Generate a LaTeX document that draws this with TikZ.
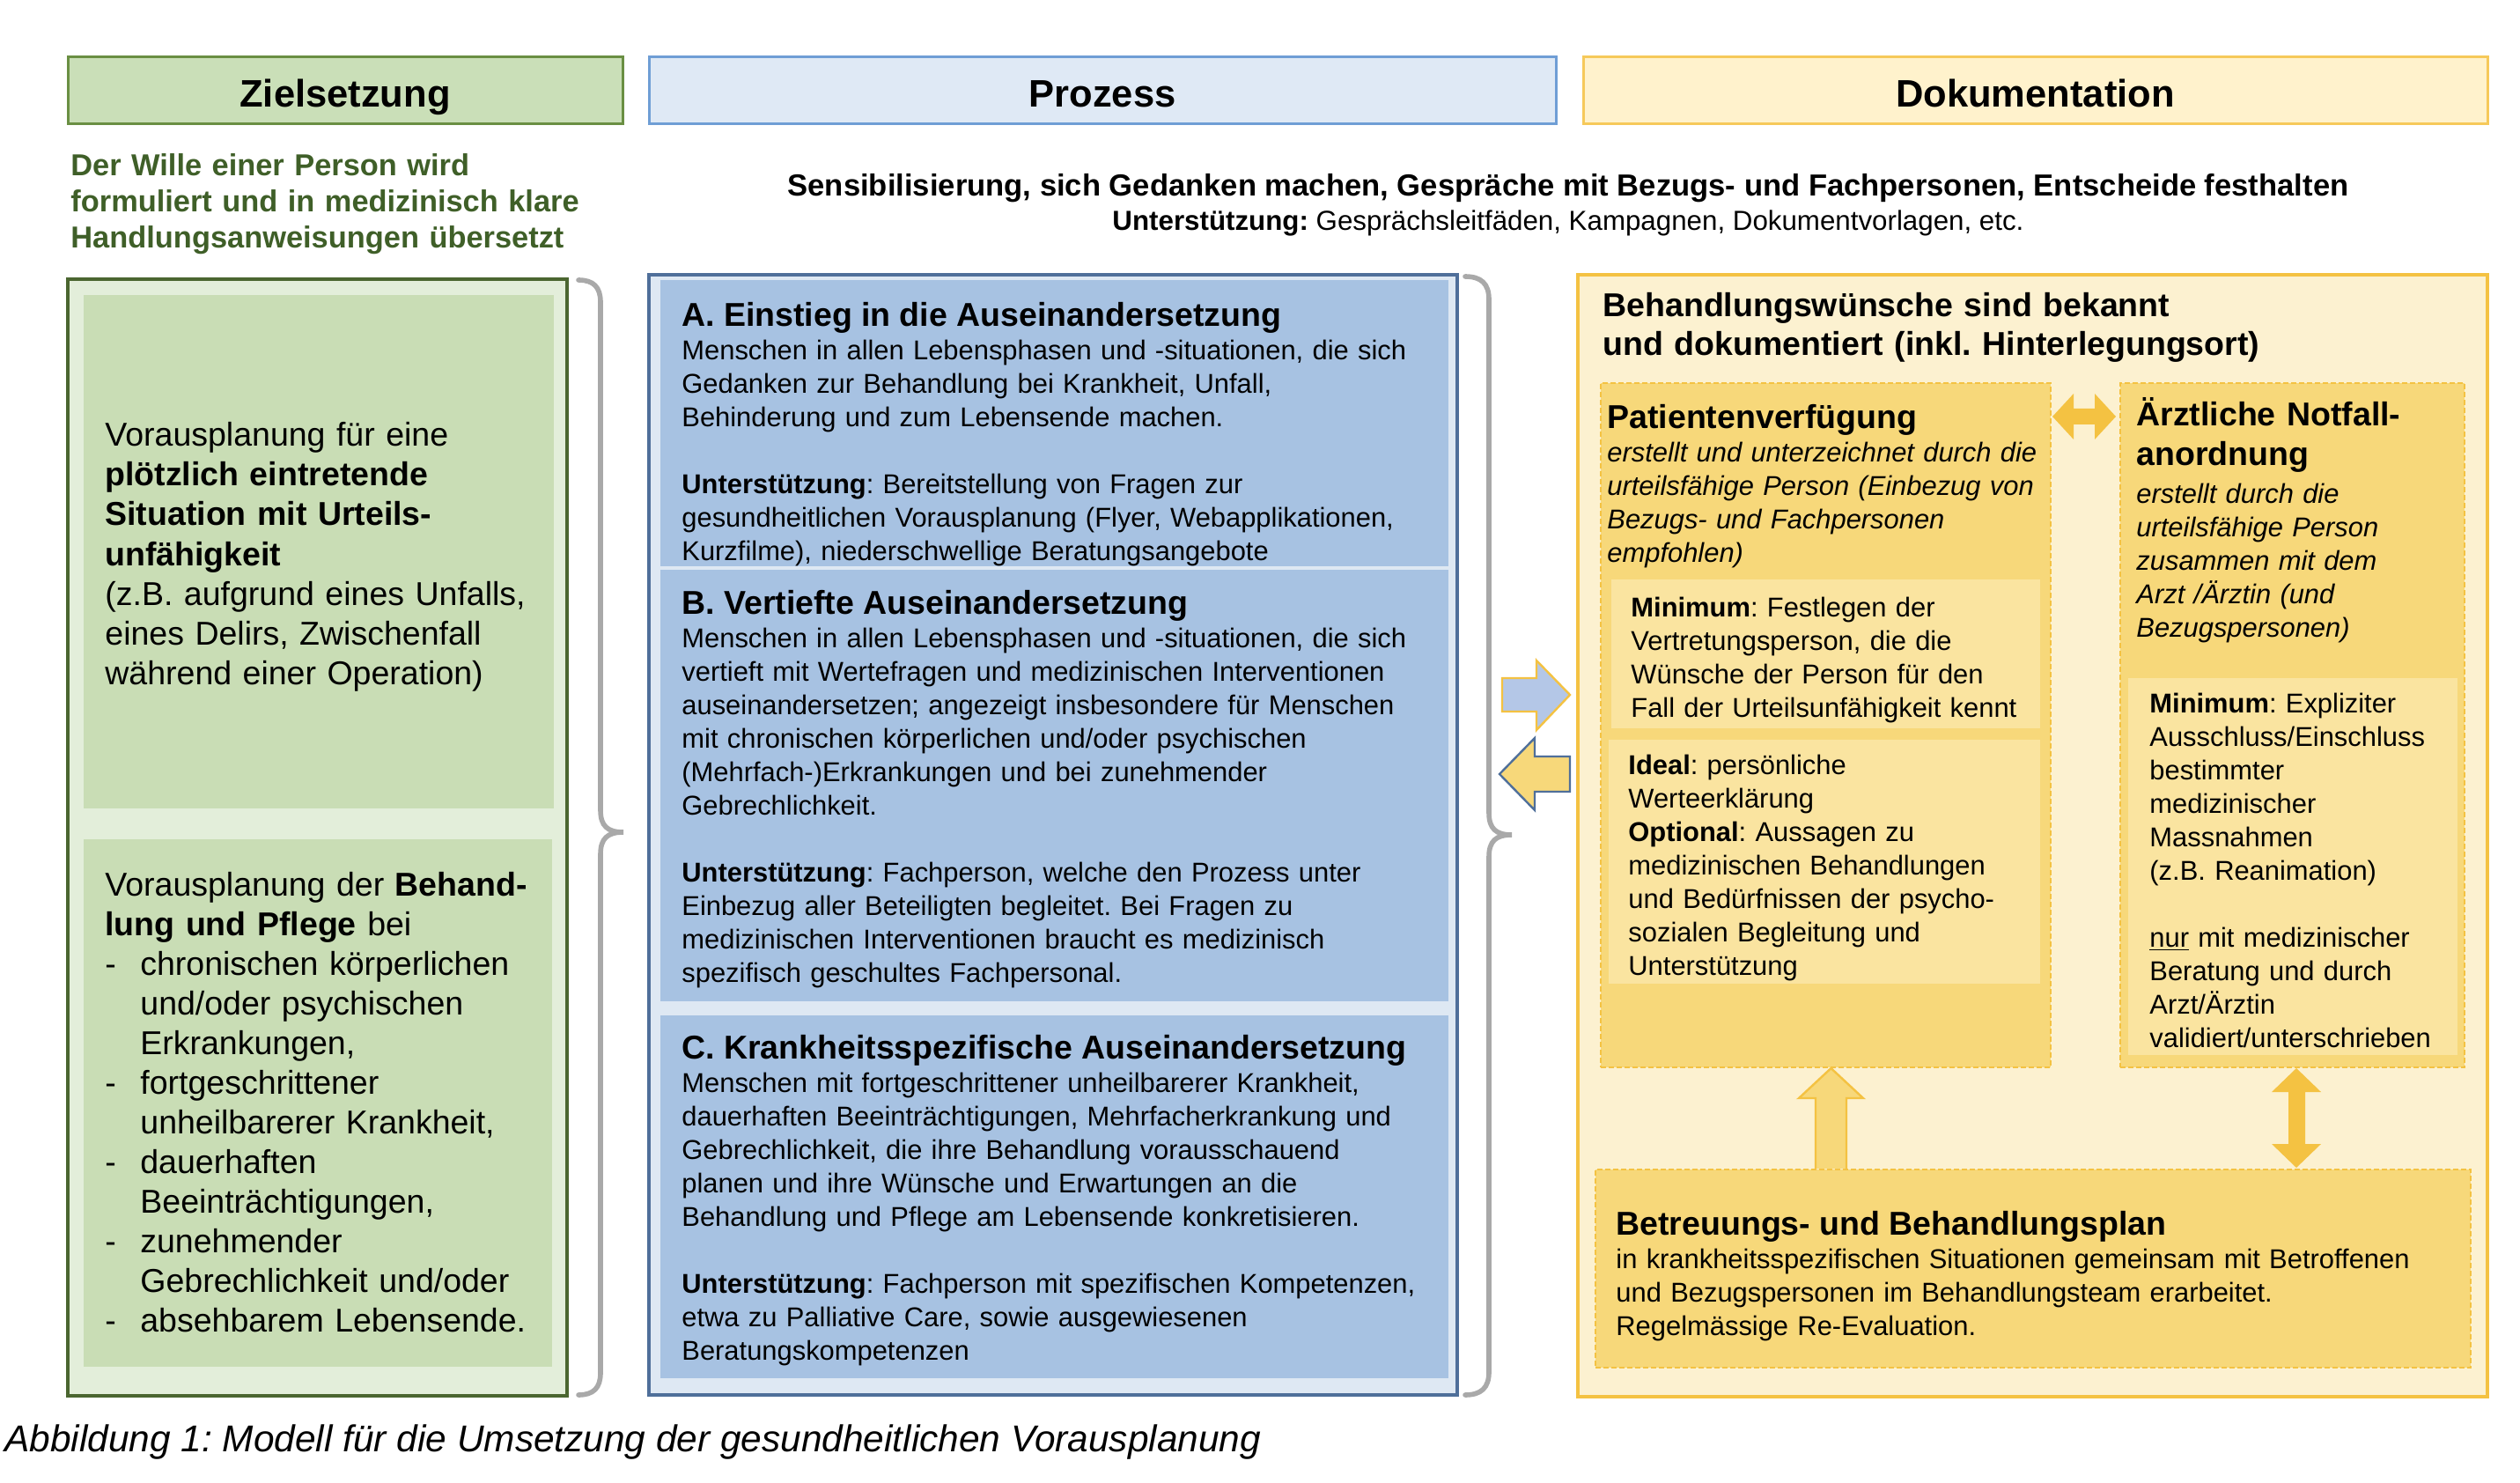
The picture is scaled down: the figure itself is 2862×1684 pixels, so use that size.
\documentclass[tikz,border=0pt]{standalone}
\usepackage{fontspec}
\setmainfont{Liberation Sans}
\usetikzlibrary{fit}
\frenchspacing
\definecolor{gHeadF}{HTML}{CADFB8}
\definecolor{gHeadD}{HTML}{6A8F43}
\definecolor{gOutF}{HTML}{E3EEDA}
\definecolor{gOutD}{HTML}{4B6630}
\definecolor{gIn}{HTML}{C9DDB5}
\definecolor{gTxt}{HTML}{3F5F28}
\definecolor{bHeadF}{HTML}{DFE9F5}
\definecolor{bHeadD}{HTML}{6F9ED5}
\definecolor{bOutF}{HTML}{DEE8F3}
\definecolor{bOutD}{HTML}{4F6F9A}
\definecolor{bIn}{HTML}{A7C2E2}
\definecolor{yHeadF}{HTML}{FFF2CC}
\definecolor{yHeadD}{HTML}{F6C95A}
\definecolor{yOutF}{HTML}{FCF1D0}
\definecolor{yD}{HTML}{F4C242}
\definecolor{yMid}{HTML}{F7D87A}
\definecolor{yLight}{HTML}{FAE4A0}
\definecolor{arrBlue}{HTML}{B4C7E7}
\definecolor{braceG}{HTML}{A9A9A9}
\newcommand\FBody{\fontsize{15.45pt}{19pt}\selectfont\frenchspacing}
\newcommand\FTitle{\fontsize{18.75pt}{22pt}\selectfont\bfseries}
\newcommand\FHead{\fontsize{21.75pt}{26pt}\selectfont\bfseries}
\newcommand\FLeft{\fontsize{18.75pt}{22.5pt}\selectfont\frenchspacing}
\newcommand\FSub{\fontsize{17.2pt}{20.5pt}\selectfont\bfseries}
\newcommand\FCap{\fontsize{21.2pt}{24pt}\selectfont\itshape\frenchspacing}
\newcommand\Bul{\makebox[20pt][l]{-}}
\newcommand\Ind{\hspace*{20pt}}
\begin{document}
\begin{tikzpicture}[x=0.5pt,y=-0.5pt,
  rbox/.style={inner sep=0pt, outer sep=0pt},
  headG/.style={rbox, fill=gHeadF, draw=gHeadD, line width=1.5pt},
  headB/.style={rbox, fill=bHeadF, draw=bHeadD, line width=1.5pt},
  headY/.style={rbox, fill=yHeadF, draw=yHeadD, line width=1.5pt},
  outG/.style={rbox, fill=gOutF, draw=gOutD, line width=1.8pt},
  inG/.style={rbox, fill=gIn},
  outB/.style={rbox, fill=bOutF, draw=bOutD, line width=1.8pt},
  inB/.style={rbox, fill=bIn},
  outY/.style={rbox, fill=yOutF, draw=yD, line width=2.2pt},
  dashY/.style={rbox, fill=yMid, draw=yD, line width=1.3pt, dash pattern=on 3pt off 1.5pt},
  inY/.style={rbox, fill=yLight},
  tx/.style={anchor=base west, inner sep=0pt, align=left, text width=#1},
  brace/.style={draw=braceG, line width=2.8pt, line cap=round},
  htext/.style={anchor=base, inner sep=0pt, font=\FHead}
]
\useasboundingbox (0,0) rectangle (2862,1684);

% ---------- headers ----------
\node[headG, fit={(77,65)(707,141)}] (hZ) {};
\node[headB, fit={(737,65)(1767,141)}] (hP) {};
\node[headY, fit={(1798,65)(2825,141)}] (hD) {};
\node[htext] (tZ) at (hZ.center |- 0,122) {Zielsetzung};
\node[htext] (tP) at (hP.center |- 0,122) {Prozess};
\node[htext] (tD) at (hD.center |- 0,122) {Dokumentation};

% ---------- subtitles ----------
\node[tx=320pt, font=\FSub, text=gTxt] (subZ) at (80,200)
  {Der Wille einer Person wird\\formuliert und in medizinisch klare\\Handlungsanweisungen übersetzt};
\node[anchor=base, inner sep=0pt, font=\fontsize{17.3pt}{20pt}\selectfont\bfseries] (subP1) at (1781,223)
  {Sensibilisierung, sich Gedanken machen, Gespräche mit Bezugs- und Fachpersonen, Entscheide festhalten};
\node[anchor=base, inner sep=0pt, font=\fontsize{15.65pt}{19pt}\selectfont\frenchspacing] (subP2) at (1781,262)
  {\textbf{Unterstützung:} Gesprächsleitfäden, Kampagnen, Dokumentvorlagen, etc.};

% ---------- left column ----------
\node[outG, fit={(77,317)(644,1585)}] (colZ) {};
\node[inG, fit={(95,335)(629,918)}] (z1) {};
\node[inG, fit={(95,953)(627,1552)}] (z2) {};
\node[tx=280pt, font=\FLeft] (z1t) at (119,507)
  {Vorausplanung für eine\\
   \textbf{plötzlich eintretende}\\
   \textbf{Situation mit Urteils-}\\
   \textbf{unfähigkeit}\\
   (z.B. aufgrund eines Unfalls,\\
   eines Delirs, Zwischenfall\\
   während einer Operation)};
\node[tx=280pt, font=\FLeft] (z2t) at (119,1017)
  {Vorausplanung der \textbf{Behand-}\\
   \textbf{lung und Pflege} bei\\
   \Bul chronischen körperlichen\\
   \Ind und/oder psychischen\\
   \Ind Erkrankungen,\\
   \Bul fortgeschrittener\\
   \Ind unheilbarerer Krankheit,\\
   \Bul dauerhaften\\
   \Ind Beeinträchtigungen,\\
   \Bul zunehmender\\
   \Ind Gebrechlichkeit und/oder\\
   \Bul absehbarem Lebensende.};

% brace 1
\draw[brace] (657,318) .. controls (674,318) and (682,326) .. (682,343) -- (682,920)
  .. controls (682,938) and (690,945) .. (708,945)
  .. controls (690,945) and (682,952) .. (682,970) -- (682,1559)
  .. controls (682,1576) and (674,1584) .. (657,1584);

% ---------- process column ----------
\node[outB, fit={(737,312)(1655,1584)}] (colP) {};
\node[inB, fit={(750,318)(1645,643)}] (pA) {};
\node[inB, fit={(750,647)(1645,1137)}] (pB) {};
\node[inB, fit={(750,1153)(1645,1565)}] (pC) {};
\node[tx=440pt, font=\FBody] (pAt) at (774,371)
  {{\FTitle A. Einstieg in die Auseinandersetzung}\\
   Menschen in allen Lebensphasen und -situationen, die sich\\
   Gedanken zur Behandlung bei Krankheit, Unfall,\\
   Behinderung und zum Lebensende machen.\\[19pt]
   \textbf{Unterstützung}: Bereitstellung von Fragen zur\\
   gesundheitlichen Vorausplanung (Flyer, Webapplikationen,\\
   Kurzfilme), niederschwellige Beratungsangebote};
\node[tx=440pt, font=\FBody] (pBt) at (774,697)
  {{\FTitle B. Vertiefte Auseinandersetzung}\\
   Menschen in allen Lebensphasen und -situationen, die sich\\
   vertieft mit Wertefragen und medizinischen Interventionen\\
   auseinandersetzen; angezeigt insbesondere für Menschen\\
   mit chronischen körperlichen und/oder psychischen\\
   (Mehrfach-)Erkrankungen und bei zunehmender\\
   Gebrechlichkeit.\\[19pt]
   \textbf{Unterstützung}: Fachperson, welche den Prozess unter\\
   Einbezug aller Beteiligten begleitet. Bei Fragen zu\\
   medizinischen Interventionen braucht es medizinisch\\
   spezifisch geschultes Fachpersonal.};
\node[tx=440pt, font=\FBody] (pCt) at (774,1202)
  {{\FTitle C. Krankheitsspezifische Auseinandersetzung}\\
   Menschen mit fortgeschrittener unheilbarerer Krankheit,\\
   dauerhaften Beeinträchtigungen, Mehrfacherkrankung und\\
   Gebrechlichkeit, die ihre Behandlung vorausschauend\\
   planen und ihre Wünsche und Erwartungen an die\\
   Behandlung und Pflege am Lebensende konkretisieren.\\[19pt]
   \textbf{Unterstützung}: Fachperson mit spezifischen Kompetenzen,\\
   etwa zu Palliative Care, sowie ausgewiesenen\\
   Beratungskompetenzen};

% brace 2
\draw[brace] (1664,314) .. controls (1682,314) and (1691,322) .. (1691,340) -- (1691,923)
  .. controls (1691,941) and (1699,948) .. (1717,948)
  .. controls (1699,948) and (1691,955) .. (1691,973) -- (1691,1558)
  .. controls (1691,1576) and (1682,1584) .. (1664,1584);

% arrows between process and documentation
\draw[fill=arrBlue, draw=yD, line width=1.2pt, line join=miter]
  (1706,770) -- (1745,770) -- (1745,750) -- (1783,789) -- (1745,829) -- (1745,808) -- (1706,808) -- cycle;
\draw[fill=yMid, draw=bOutD, line width=1.2pt, line join=miter]
  (1783,859) -- (1743,859) -- (1743,838) -- (1703,879) -- (1743,920) -- (1743,899) -- (1783,899) -- cycle;

% ---------- documentation column ----------
\node[outY, fit={(1792,312)(2825,1586)}] (colD) {};
\node[tx=480pt, font=\FTitle] (dT) at (1820,360)
  {Behandlungswünsche sind bekannt\\und dokumentiert (inkl. Hinterlegungsort)};

\node[dashY, fit={(1818,435)(2329,1212)}] (pv) {};
\node[dashY, fit={(2408,435)(2799,1212)}] (an) {};
\node[inY, fit={(1830,658)(2317,827)}] (pvMin) {};
\node[inY, fit={(1827,840)(2317,1117)}] (pvIdeal) {};
\node[inY, fit={(2417,770)(2791,1198)}] (anMin) {};

\node[tx=250pt, font=\FBody] (pvT) at (1825,487)
  {{\FTitle Patientenverfügung}\\
   \itshape erstellt und unterzeichnet durch die\\
   \itshape urteilsfähige Person (Einbezug von\\
   \itshape Bezugs- und Fachpersonen\\
   \itshape empfohlen)};
\node[tx=240pt, font=\FBody] (pvMinT) at (1852,700)
  {\textbf{Minimum}: Festlegen der\\
   Vertretungsperson, die die\\
   Wünsche der Person für den\\
   Fall der Urteilsunfähigkeit kennt};
\node[tx=240pt, font=\FBody] (pvIdealT) at (1849,879)
  {\textbf{Ideal}: persönliche\\
   Werteerklärung\\
   \textbf{Optional}: Aussagen zu\\
   medizinischen Behandlungen\\
   und Bedürfnissen der psycho-\\
   sozialen Begleitung und\\
   Unterstützung};

\node[tx=190pt, font=\fontsize{18.75pt}{22.5pt}\selectfont\bfseries] (anT) at (2426,484)
  {Ärztliche Notfall-\\anordnung};
\node[tx=190pt, font=\FBody\itshape] (anS) at (2426,571)
  {erstellt durch die\\
   urteilsfähige Person\\
   zusammen mit dem\\
   Arzt /Ärztin (und\\
   Bezugspersonen)};
\node[tx=185pt, font=\FBody] (anMinT) at (2441,809)
  {\textbf{Minimum}: Expliziter\\
   Ausschluss/Einschluss\\
   bestimmter\\
   medizinischer\\
   Massnahmen\\
   (z.B. Reanimation)\\[19pt]
   \underline{nur} mit medizinischer\\
   Beratung und durch\\
   Arzt/Ärztin\\
   validiert/unterschrieben};

\node[dashY, fit={(1812,1328)(2806,1553)}] (bp) {};
\node[tx=490pt, font=\FBody] (bpT) at (1835,1402)
  {{\FTitle Betreuungs- und Behandlungsplan}\\
   in krankheitsspezifischen Situationen gemeinsam mit Betroffenen\\
   und Bezugspersonen im Behandlungsteam erarbeitet.\\
   Regelmässige Re-Evaluation.};

% double arrow between pv and an
\fill[yD] (2331,473) -- (2355,447) -- (2355,464) -- (2379,464) -- (2379,447) -- (2403,473)
  -- (2379,499) -- (2379,482) -- (2355,482) -- (2355,499) -- cycle;
% up arrow bp -> pv
\draw[fill=yMid, draw=yD, line width=1.2pt, line join=miter]
  (2062,1327) -- (2062,1247) -- (2043,1247) -- (2079.5,1213) -- (2116,1247) -- (2097,1247) -- (2097,1327);
% vertical double arrow an <-> bp
\fill[yD] (2608,1213) -- (2636,1240) -- (2618,1240) -- (2618,1299) -- (2636,1299) -- (2608,1326)
  -- (2580,1299) -- (2599,1299) -- (2599,1240) -- (2580,1240) -- cycle;

% caption
\node[anchor=base west, inner sep=0pt, font=\FCap] (cap) at (5,1648)
  {Abbildung 1: Modell für die Umsetzung der gesundheitlichen Vorausplanung};
\end{tikzpicture}
\end{document}
